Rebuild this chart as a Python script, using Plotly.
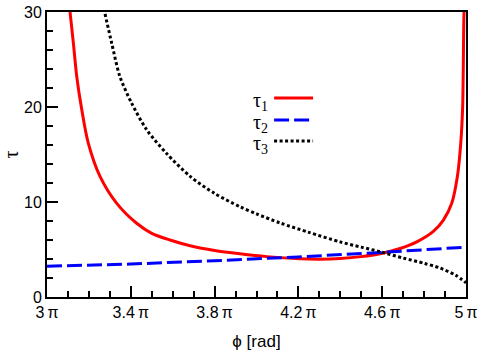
import plotly.graph_objects as go

# phi in units of pi
tau1_x = [3.11, 3.126, 3.142, 3.166, 3.197, 3.253, 3.333, 3.428, 3.5, 3.587, 3.683,
          3.8, 3.921, 4.05, 4.208, 4.3, 4.4, 4.5, 4.59, 4.685, 4.765, 4.844,
          4.892, 4.932, 4.959, 4.975, 4.984, 4.990, 4.993]
tau1_y = [30, 26.7, 23.2, 19.7, 16.2, 12.7, 9.86, 7.76, 6.7, 6.0, 5.4,
          4.9, 4.55, 4.25, 4.02, 3.98, 4.05, 4.25, 4.55, 5.1, 5.8, 6.9,
          8.1, 9.86, 12.7, 16.2, 20.0, 29.5, 31]

tau2_x = [3.0, 3.4, 3.8, 4.2, 4.6, 5.0]
tau2_y = [3.25, 3.47, 3.82, 4.22, 4.7, 5.25]

tau3_x = [3.277, 3.309, 3.348, 3.404, 3.476, 3.571, 3.683, 3.8, 3.921, 4.0, 4.112,
          4.25, 4.399, 4.5, 4.59, 4.7, 4.8, 4.876, 4.95, 5.0]
tau3_y = [29.8, 26.7, 23.2, 20.4, 17.6, 15.1, 12.7, 10.9, 9.5, 8.75, 7.8,
          6.8, 5.8, 5.25, 4.77, 4.1, 3.55, 3.05, 2.3, 1.5]

x_ticks = [3.0, 3.4, 3.8, 4.2, 4.6, 5.0]
x_labels = ["3\u2009π", "3.4\u2009π", "3.8\u2009π", "4.2\u2009π", "4.6\u2009π", "5\u2009π"]
y_ticks = [0, 10, 20, 30]

fig = go.Figure()
fig.add_trace(go.Scatter(x=tau1_x, y=tau1_y, mode="lines", line_shape="spline",
                         line=dict(color="#ff0000", width=3, smoothing=0.8)))
fig.add_trace(go.Scatter(x=tau2_x, y=tau2_y, mode="lines", line=dict(color="#0000ff", width=3, dash="15px,5px")))
fig.add_trace(go.Scatter(x=tau3_x, y=tau3_y, mode="lines", line_shape="spline",
                         line=dict(color="#000000", width=3, dash="3px,2.5px", smoothing=0.8)))

axis_common = dict(showline=True, linecolor="black", linewidth=2, mirror=True,
                   ticks="inside", ticklen=11, tickwidth=2, tickcolor="black",
                   showgrid=False, automargin=False,
                   tickfont=dict(family="Liberation Sans", size=16, color="black"))

fig.update_xaxes(range=[3, 5], tickmode="array", tickvals=x_ticks, ticktext=x_labels,
                 minor=dict(ticks="inside", ticklen=6, dtick=0.1, tick0=3, tickcolor="black", tickwidth=2),
                 title=dict(text="ϕ [rad]", font=dict(family="Liberation Sans", size=17, color="black")),
                 **axis_common)
fig.update_yaxes(range=[0, 30], tickmode="array", tickvals=y_ticks,
                 minor=dict(ticks="inside", ticklen=6, dtick=2, tick0=0, tickcolor="black", tickwidth=2),
                 title=dict(text="τ", font=dict(family="Liberation Serif", size=20, color="black")),
                 **axis_common)

# legend: label left of line sample
legend_items = [("τ<sub>1</sub>", "#ff0000", "solid", 0.698),
                ("τ<sub>2</sub>", "#0000ff", "15px,5px", 0.621),
                ("τ<sub>3</sub>", "#000000", "3px,2.5px", 0.547)]
for label, color, dash, yp in legend_items:
    fig.add_annotation(x=0.532, y=yp, xref="paper", yref="paper", text=label, showarrow=False,
                       xanchor="right", yanchor="middle", yshift=-3,
                       font=dict(family="Liberation Serif", size=20, color="black"))
    fig.add_shape(type="line", xref="paper", yref="paper", x0=0.542, x1=0.635, y0=yp, y1=yp,
                  line=dict(color=color, width=3, dash=dash))

fig.update_layout(width=491, height=353, showlegend=False,
                  margin=dict(l=47, r=25, t=12, b=56),
                  plot_bgcolor="white", paper_bgcolor="white")

# drop the default body margin so the figure sits at the window's corner
fig.write_html("out.html", post_script="document.body.style.margin='0px';",
               config={"displayModeBar": False})
